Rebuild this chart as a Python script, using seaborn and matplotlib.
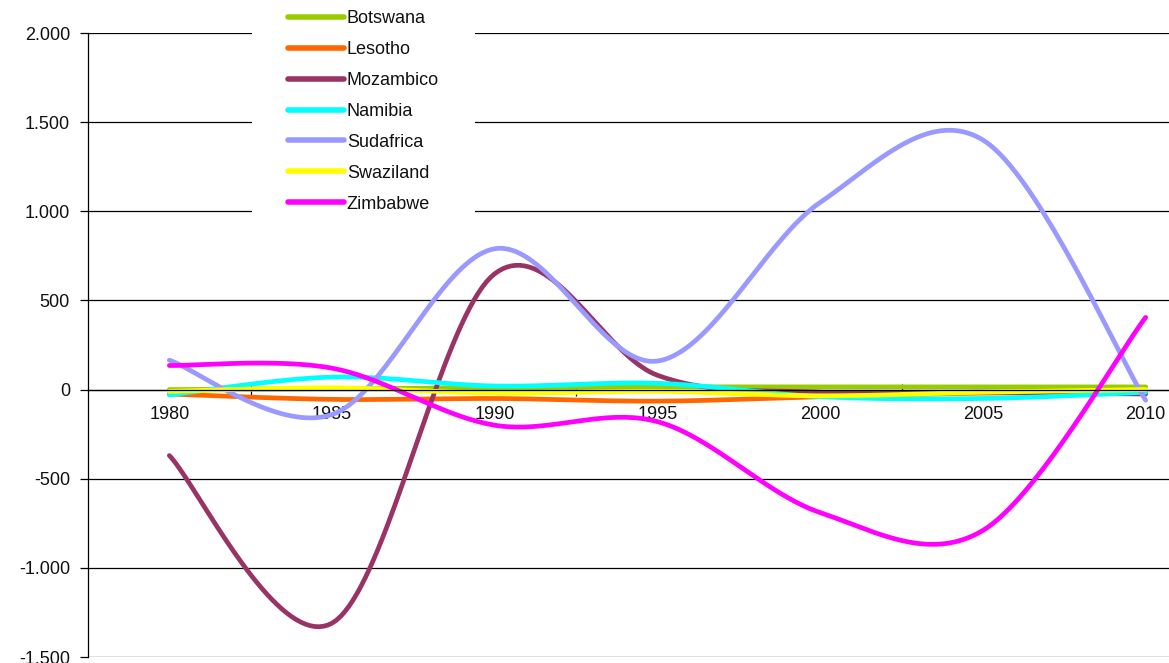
import numpy as np
import pandas as pd
import seaborn as sns
import matplotlib.pyplot as plt
from matplotlib.ticker import FuncFormatter, FixedLocator

# values (every 5 years)
years = [1980, 1985, 1990, 1995, 2000, 2005, 2010]
countries = ['Botswana', 'Lesotho', 'Mozambico', 'Namibia', 'Sudafrica', 'Swaziland', 'Zimbabwe']
botswana = [0, 5, 10, 15, 15, 15, 15]
lesotho = [-25, -55, -50, -65, -40, -20, -20]
mozambico = [-370, -1310, 650, 80, -15, -15, -25]
namibia = [-30, 70, 20, 35, -40, -50, -15]
sudafrica = [165, -140, 790, 160, 1050, 1400, -60]
swaziland = [-10, 10, -20, -10, -35, -15, 0]
zimbabwe = [135, 120, -200, -180, -690, -790, 405]
colors = ['#99CC00', '#FF6600', '#993366', '#00FFFF', '#9999FF', '#FFFF00', '#FF00FF']

series = [botswana, lesotho, mozambico, namibia, sudafrica, swaziland, zimbabwe]


def smooth(xs, ys, n=40):
    # Excel-like smoothed line (cubic Bezier with Catmull-Rom tangents)
    pts = np.column_stack([xs, ys]).astype(float)
    out = []
    for i in range(len(pts) - 1):
        p0 = pts[max(i - 1, 0)]
        p1 = pts[i]
        p2 = pts[i + 1]
        p3 = pts[min(i + 2, len(pts) - 1)]
        c1 = p1 + (p2 - p0) / 6
        c2 = p2 - (p3 - p1) / 6
        t = np.linspace(0, 1, n)[:, None]
        seg = ((1 - t) ** 3) * p1 + 3 * ((1 - t) ** 2) * t * c1 + 3 * (1 - t) * t ** 2 * c2 + t ** 3 * p2
        out.append(seg if i == 0 else seg[1:])
    return np.vstack(out)


rows = []
for name, vals in zip(countries, series):
    for x, y in smooth(years, vals):
        rows.append({'year': x, 'value': y, 'country': name})
df = pd.DataFrame(rows)

sns.set_style('white')
plt.rcParams['font.family'] = ['Liberation Sans', 'DejaVu Sans']

W, H = 1169, 663
fig = plt.figure(figsize=(W / 100, H / 100), dpi=100)
left, right, top, bottom = 88, 1227, 33, 657
ax = fig.add_axes([left / W, (H - bottom) / H, (right - left) / W, (bottom - top) / H])

sns.lineplot(data=df, x='year', y='value', hue='country', hue_order=countries,
             palette=dict(zip(countries, colors)), linewidth=3.4, sort=False,
             estimator=None, units='country', ax=ax)

ax.set_xlim(1977.5, 2012.5)
ax.set_ylim(-1500, 2000)
ax.set_yticks(range(-1500, 2001, 500))
ax.yaxis.set_major_formatter(FuncFormatter(lambda v, p: f'{int(v):,}'.replace(',', '.')))
ax.grid(axis='y', color='black', linewidth=0.9)
ax.grid(axis='x', visible=False)
ax.set_axisbelow(True)

for s in ['top', 'right']:
    ax.spines[s].set_visible(False)
ax.spines['left'].set_color('black')
ax.spines['left'].set_linewidth(0.9)
ax.spines['bottom'].set_position(('data', 0))
ax.spines['bottom'].set_color('black')
ax.spines['bottom'].set_linewidth(0.9)

ax.set_xticks(years)
ax.set_xticklabels([str(y) for y in years])
ax.xaxis.set_minor_locator(FixedLocator([1982.5, 1992.5, 2002.5]))
ax.tick_params(axis='x', which='major', length=0, pad=12, labelsize=13, colors='#111111')
ax.tick_params(axis='x', which='minor', length=9, direction='inout', width=0.9, color='black', bottom=True)
ax.tick_params(axis='y', which='major', length=6, width=0.9, pad=7, labelsize=13, left=True,
               color='black', labelcolor='#111111')
ax.set_xlabel('')
ax.set_ylabel('')

handles, labels = ax.get_legend_handles_labels()
leg = ax.legend(handles, labels, loc='upper left', bbox_to_anchor=(252 / W, 1 + 26 / H),
                bbox_transform=fig.transFigure, borderpad=2.0, borderaxespad=0,
                frameon=True, fancybox=False, framealpha=1, facecolor='white',
                edgecolor='none', fontsize=13, handlelength=3.1, handletextpad=0.15,
                labelspacing=0.77)
for line in leg.get_lines():
    line.set_linewidth(4)
for t in leg.get_texts():
    t.set_color('#111111')

fig.savefig('out.png', dpi=100)
